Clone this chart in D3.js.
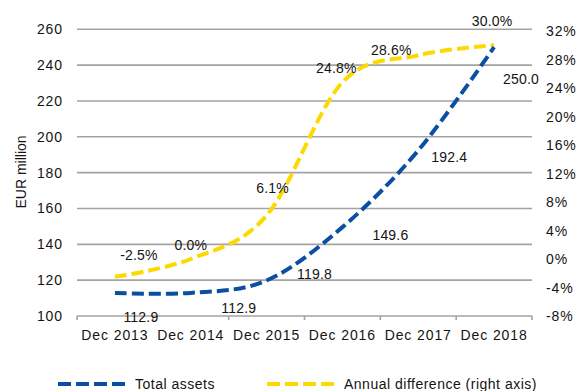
<!DOCTYPE html>
<html>
<head>
<meta charset="utf-8">
<script src="https://cdn.jsdelivr.net/npm/d3@7"></script>
<style>
  html, body { margin: 0; padding: 0; background: #fff; }
  svg { display: block; }
  text { font-family: "Liberation Sans", Arial, sans-serif; fill: #141414; }
</style>
</head>
<body>
<svg id="chart" width="579" height="391"></svg>
<script>
// Year-end figures
const categories = ["Dec 2013", "Dec 2014", "Dec 2015", "Dec 2016", "Dec 2017", "Dec 2018"];
const totalAssets = [112.9, 112.9, 119.8, 149.6, 192.4, 250.0];          // EUR million
const annualDifference = [-2.5, 0.0, 6.1, 24.8, 28.6, 30.0];              // percent
const leftTicks = [100, 120, 140, 160, 180, 200, 220, 240, 260];
const rightTicks = [-8, -4, 0, 4, 8, 12, 16, 20, 24, 28, 32];

// Label nudges (px) relative to each point
const assetLabelShift = [[26, 24], [48, 15], [48, -7], [48, 8], [31, 7], [27, 32]];
const diffLabelShift = [[24, -22], [0, -14], [6, -28], [-6, -14], [-27, -5], [-2, -24]];

const blue = "#0b4fa3";
const yellow = "#fcd900";
const grid = "#a3a3a3";

const svg = d3.select("#chart");
const plotLeft = 77, plotRight = 532, plotTop = 29.3, plotBottom = 316;

const x = d3.scaleBand().domain(categories).range([plotLeft, plotRight]).padding(0);
const cx = d => x(d) + x.bandwidth() / 2;
const yL = d3.scaleLinear().domain([100, 260]).range([plotBottom, plotTop]);
const yR = d3.scaleLinear().domain([-8, 32]).range([plotBottom, 31]);

// Horizontal gridlines
svg.append("g").selectAll("line").data(leftTicks).join("line")
  .attr("x1", plotLeft).attr("x2", plotRight)
  .attr("y1", d => yL(d)).attr("y2", d => yL(d))
  .attr("stroke", grid).attr("stroke-width", 1.6);

// Left axis labels
svg.append("g").selectAll("text").data(leftTicks).join("text")
  .attr("x", 63).attr("y", d => yL(d))
  .attr("text-anchor", "end").attr("dominant-baseline", "central")
  .style("font-size", "14px").style("letter-spacing", "0.9px")
  .text(d => d);

// Right axis labels
svg.append("g").selectAll("text").data(rightTicks).join("text")
  .attr("x", 546).attr("y", d => yR(d))
  .attr("dominant-baseline", "central")
  .style("font-size", "14px").style("letter-spacing", "0.9px")
  .text(d => d + "%");

// Category ticks on the baseline
const boundaries = categories.map(c => x(c)).concat([plotRight]);
svg.append("g").selectAll("line").data(boundaries).join("line")
  .attr("x1", d => d).attr("x2", d => d)
  .attr("y1", plotBottom).attr("y2", plotBottom + 4)
  .attr("stroke", grid).attr("stroke-width", 1.6);

// Category labels
svg.append("g").selectAll("text").data(categories).join("text")
  .attr("x", d => cx(d)).attr("y", 340)
  .attr("text-anchor", "middle")
  .style("font-size", "14px").style("letter-spacing", "0.9px")
  .text(d => d);

// Axis title
svg.append("text")
  .attr("transform", "translate(26,172) rotate(-90)")
  .attr("text-anchor", "middle")
  .style("font-size", "14px")
  .text("EUR million");

// Series lines (smoothed)
const curve = d3.curveCardinal.tension(0);
const lineL = d3.line().x((d, i) => cx(categories[i])).y(d => yL(d)).curve(curve);
const lineR = d3.line().x((d, i) => cx(categories[i])).y(d => yR(d)).curve(curve);

svg.append("path").attr("d", lineR(annualDifference))
  .attr("fill", "none").attr("stroke", yellow).attr("stroke-width", 4)
  .attr("stroke-dasharray", "12,5");
svg.append("path").attr("d", lineL(totalAssets))
  .attr("fill", "none").attr("stroke", blue).attr("stroke-width", 4)
  .attr("stroke-dasharray", "12,5");

// Value labels
svg.append("g").selectAll("text").data(totalAssets).join("text")
  .attr("x", (d, i) => cx(categories[i]) + assetLabelShift[i][0])
  .attr("y", (d, i) => yL(d) + assetLabelShift[i][1])
  .attr("text-anchor", "middle").attr("dominant-baseline", "central")
  .style("font-size", "14px").style("letter-spacing", "0.2px")
  .text(d => d.toFixed(1));

svg.append("g").selectAll("text").data(annualDifference).join("text")
  .attr("x", (d, i) => cx(categories[i]) + diffLabelShift[i][0])
  .attr("y", (d, i) => yR(d) + diffLabelShift[i][1])
  .attr("text-anchor", "middle").attr("dominant-baseline", "central")
  .style("font-size", "14px").style("letter-spacing", "0.2px")
  .text(d => d.toFixed(1) + "%");

// Legend
const legend = [
  { label: "Total assets", color: blue, x: 58 },
  { label: "Annual difference (right axis)", color: yellow, x: 267 }
];
const lg = svg.append("g").selectAll("g").data(legend).join("g")
  .attr("transform", d => `translate(${d.x},384)`);
lg.append("line").attr("x1", 0).attr("x2", 67).attr("y1", 0).attr("y2", 0)
  .attr("stroke", d => d.color).attr("stroke-width", 4).attr("stroke-dasharray", "13,5");
lg.append("text").attr("x", 77).attr("y", 0).attr("dominant-baseline", "central")
  .style("font-size", "14px").style("letter-spacing", "0.5px")
  .text(d => d.label);
</script>
</body>
</html>
